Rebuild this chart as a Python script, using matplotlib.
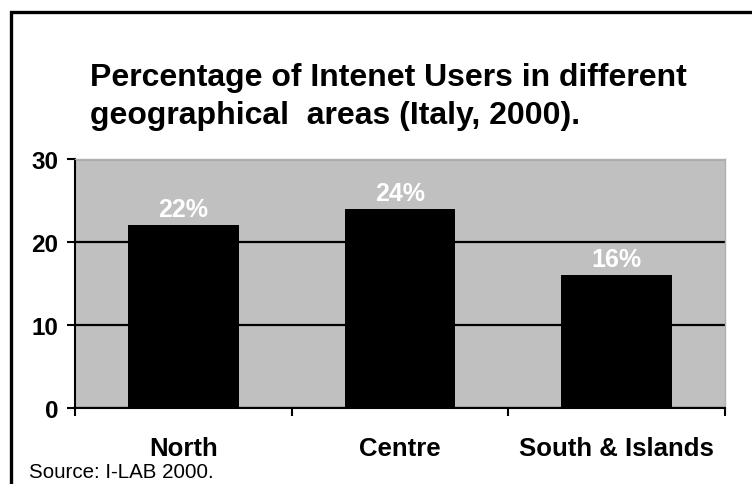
import matplotlib
matplotlib.use('Agg')
import matplotlib.pyplot as plt
from matplotlib.patches import Rectangle

plt.rcParams['font.family'] = ['Liberation Sans', 'DejaVu Sans']

# data
regions = ['North', 'Centre', 'South & Islands']
users_pct = [22, 24, 16]
y_ticks = [0, 10, 20, 30]

W, H = 752, 485
fig = plt.figure(figsize=(W / 100, H / 100), dpi=100)

# outer frame (right and bottom run off the image)
fig.patches.append(Rectangle((11 / W, -0.1), 1.2, 1 - 13 / H + 0.1,
                             transform=fig.transFigure, fill=False,
                             edgecolor='black', linewidth=2.4))

# plot area in pixel coordinates
left, right, top, bottom = 75, 725, 160, 409
ax = fig.add_axes([left / W, 1 - bottom / H, (right - left) / W, (bottom - top) / H])
ax.set_facecolor('#c0c0c0')

x = list(range(len(regions)))
ax.bar(x, users_pct, width=0.51, color='black', zorder=3)
for xi, v in zip(x, users_pct):
    ax.text(xi, v + 1.1, f'{v}%', ha='center', va='baseline', color='white',
            fontsize=18, fontweight='bold', zorder=4)

ax.set_xlim(-0.5, len(regions) - 0.5)
ax.set_ylim(0, 30)
ax.set_yticks(y_ticks)
ax.set_yticklabels([str(t) for t in y_ticks], fontsize=17.5, fontweight='bold')
ax.yaxis.grid(True, color='black', linewidth=1.6, zorder=1)
ax.set_axisbelow(True)

# category ticks on the boundaries, labels in the middle
ax.set_xticks([i - 0.5 for i in range(len(regions) + 1)])
ax.set_xticklabels([])
ax.set_xticks(x, minor=True)
ax.set_xticklabels(regions, minor=True, fontsize=18.5, fontweight='bold')
ax.tick_params(axis='x', which='minor', length=0, pad=20)
ax.tick_params(axis='x', which='major', direction='out', length=6, width=1.5)
ax.tick_params(axis='y', direction='out', length=6, width=1.5, pad=6)

ax.spines['left'].set_linewidth(1.5)
ax.spines['bottom'].set_linewidth(1.5)
ax.spines['top'].set_color('#b0b0b0')
ax.spines['right'].set_color('#b0b0b0')
ax.spines['top'].set_linewidth(1)
ax.spines['right'].set_linewidth(1)

fig.text(90 / W, 1 - 124 / H, 'Percentage of Intenet Users in different\ngeographical  areas (Italy, 2000).',
         ha='left', va='baseline', fontsize=23, fontweight='bold', linespacing=1.36)
fig.text(29 / W, 1 - 478 / H, 'Source: I-LAB 2000.', ha='left', va='baseline', fontsize=14.8)

fig.savefig('out.png', dpi=100)
